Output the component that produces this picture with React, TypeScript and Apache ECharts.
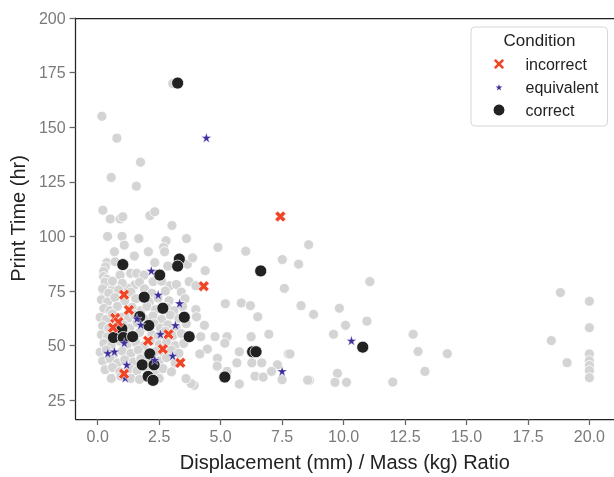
import React, { useEffect, useRef } from "react";
import * as echarts from "echarts";

const xTicks = [0, 2.5, 5, 7.5, 10, 12.5, 15, 17.5, 20];
const yTicks = [25, 50, 75, 100, 125, 150, 175, 200];
const conditionNames = ["incorrect", "equivalent", "correct"];
const legendTitle = "Condition";
const xTitle = "Displacement (mm) / Mass (kg) Ratio";
const yTitle = "Print Time (hr)";

const incorrect = [
  [7.43, 109.1], [4.31, 77.2], [1.07, 73.3], [1.27, 66.3], [0.71, 62.7], [0.84, 60.8],
  [0.62, 58.2], [2.05, 52.2], [2.88, 55.2], [2.65, 48.4], [3.36, 42.1], [1.07, 37.1],
];

const equivalent = [
  [4.42, 145.2], [2.18, 84.3], [2.46, 73.3], [3.33, 69.4], [1.6, 62.4], [1.75, 59.6],
  [3.16, 59.4], [2.55, 55.3], [1.08, 51.3], [0.41, 46.6], [0.68, 47.3], [3.05, 45.4],
  [2.32, 43.5], [1.18, 41.3], [1.12, 35.2], [7.5, 38.3], [10.32, 52.3],
];

const correct = [
  [3.25, 170.2], [3.32, 89.6], [3.25, 86.4], [1.02, 87.1], [2.52, 82.3], [6.63, 84.2],
  [1.89, 72.2], [2.65, 67.1], [3.52, 63.0], [1.71, 63.3], [2.08, 59.2], [0.98, 57.7],
  [0.64, 53.7], [1.04, 53.7], [1.42, 54.1], [3.72, 54.1], [2.12, 46.2], [1.81, 41.2],
  [2.29, 41.2], [2.05, 35.9], [2.25, 34.1], [5.17, 35.6], [6.3, 47.2], [6.44, 47.2],
  [10.78, 49.3],
];

const otherSparse = [
  [0.17, 155], [0.78, 145], [3.05, 170], [1.74, 134], [0.55, 127], [1.57, 123],
  [0.21, 112], [0.51, 108], [0.91, 108], [1.02, 109], [2.12, 109.5], [2.32, 111.3], [3.02, 105],
  [0.4, 100], [0.99, 100], [1.67, 99], [1.08, 96], [2.78, 98], [2.68, 95], [3.61, 99],
  [0.68, 93], [1.49, 91], [2.06, 93], [2.32, 88], [2.72, 93], [2.85, 86.4], [3.65, 87.3],
  [0.37, 88], [0.31, 86], [0.24, 84], [0.24, 81.6], [0.37, 80.4], [0.71, 88.4], [0.91, 82.3],
  [1.34, 83.1], [1.58, 83.1], [1.88, 82.3], [2.25, 79.3], [1.51, 77.8], [1.2, 76.3], [2.92, 77.4],
  [0.57, 75.6], [0.24, 74.8], [3.86, 90.2], [4.37, 84.3], [3.72, 79.3], [3.99, 77.4],
  [4.89, 95], [6.02, 93.2], [8.58, 96.2], [7.51, 89.4], [8.17, 87.3], [7.59, 76.2],
  [5.19, 69.2], [5.84, 69.5], [6.21, 68.3], [6.51, 63.2], [8.27, 68.3], [3.99, 66.5], [4.02, 63.2],
  [4.34, 59.3], [4.77, 54.1], [5.26, 54.1], [4.19, 54.1], [6.24, 54.1], [6.96, 55.2], [5.17, 51.1],
  [5.76, 47.2], [4.46, 48.4], [4.15, 46.2], [4.87, 44.2], [5.66, 42.1], [6.27, 42.1], [6.67, 42.1],
  [7.75, 46.2], [7.82, 46.2], [7.31, 41.2], [7.07, 38.2], [6.4, 36], [6.73, 35.6], [7.5, 34.4],
  [5.76, 32.4], [3.92, 31.8], [3.8, 32.6], [8.61, 34.1], [5.26, 38.2], [4.86, 40.6], [3.59, 34.9],
  [11.07, 79.3], [8.78, 64.3], [9.83, 67.1], [10.08, 59.3], [10.95, 61.2], [9.59, 55.2],
  [12.83, 55.2], [13.03, 47.3], [14.22, 46.3], [13.31, 38.2], [8.54, 34.2], [9.75, 37.3],
  [9.65, 33.2], [10.12, 33.2], [12.0, 33.3],
  [18.82, 74.3], [18.45, 52.3], [19.09, 42.2], [20, 70.3], [20, 58.2], [20, 46.2], [20, 43.1],
  [20, 40.9], [20, 38.6], [20, 35.3],
];

const otherCluster = [
  [0.3, 79], [0.6, 79.5], [1.0, 78.5], [1.7, 79], [2.6, 79.5], [3.2, 78],
  [0.2, 76], [0.45, 74], [0.85, 75.5], [1.35, 74.5], [1.9, 76], [2.2, 74], [2.75, 75], [3.4, 74.5],
  [0.15, 71], [0.4, 70], [0.7, 72], [1.1, 70.5], [1.55, 71.5], [2.1, 70], [2.45, 71.8], [2.9, 70.5], [3.55, 71.5],
  [0.25, 67], [0.5, 66], [0.8, 68], [1.4, 67.5], [1.75, 66], [2.0, 68], [2.35, 66.5], [2.8, 67.5], [3.1, 66], [3.45, 68],
  [0.1, 63], [0.35, 62], [0.6, 64.5], [0.95, 63], [1.25, 62.5], [1.5, 64], [1.95, 62], [2.25, 63.5], [2.6, 62], [2.95, 64], [3.3, 62.5],
  [0.2, 59], [0.45, 58], [0.75, 60], [1.05, 59.5], [1.3, 58], [1.6, 60.5], [1.85, 58.5], [2.3, 60], [2.55, 58], [2.85, 59.5], [3.2, 58], [3.6, 60],
  [0.15, 55], [0.4, 54], [0.85, 56], [1.15, 55.5], [1.45, 54], [1.7, 56], [2.2, 55], [2.45, 54], [2.75, 56.5], [3.05, 54.5], [3.4, 55.5],
  [0.25, 51], [0.55, 50], [0.9, 52], [1.2, 50.5], [1.55, 51.5], [1.9, 50], [2.15, 52], [2.5, 50.5], [2.8, 51.5], [3.15, 50], [3.5, 51],
  [0.1, 47], [0.35, 48], [0.65, 46], [1.0, 47.5], [1.35, 46.5], [1.65, 48], [2.0, 46], [2.4, 47.5], [2.7, 46], [3.0, 48], [3.3, 46.5],
  [0.2, 43], [0.5, 44], [0.8, 42], [1.1, 43.5], [1.45, 42.5], [1.75, 44], [2.05, 42], [2.5, 43], [2.8, 44.5], [3.15, 42],
  [0.3, 39], [0.6, 40], [0.9, 38], [1.3, 39.5], [1.6, 38.5], [1.95, 40], [2.35, 38], [2.65, 39.5], [3.0, 38],
  [0.55, 35], [0.95, 36], [1.35, 35], [1.7, 34.5], [2.1, 36], [2.5, 35],
];

const X_PATH =
  "path://M-1,-0.5L-0.5,-1L0,-0.5L0.5,-1L1,-0.5L0.5,0L1,0.5L0.5,1L0,0.5L-0.5,1L-1,0.5L-0.5,0Z";
const STAR_PATH =
  "path://M0,-1L0.2245,-0.309L0.951,-0.309L0.363,0.118L0.588,0.809L0,0.382L-0.588,0.809L-0.363,0.118L-0.951,-0.309L-0.2245,-0.309Z";

const FONT = "'Liberation Sans', Arial, Helvetica, sans-serif";

export default function App() {
  const ref = useRef<HTMLDivElement>(null);
  useEffect(() => {
    if (!ref.current) return;
    const chart = echarts.init(ref.current, null, { renderer: "svg" });
    const axisLineStyle = { color: "#222", width: 1.25 };
    chart.setOption({
      animation: false,
      grid: { left: 71.5, top: 18, right: -3, bottom: 53.7 },
      xAxis: [
        {
          type: "value",
          min: -0.9,
          max: 21.0,
          position: "bottom",
          axisLine: { show: true, onZero: false, lineStyle: axisLineStyle },
          axisTick: { show: true, length: 6, customValues: xTicks, lineStyle: { color: "#666", width: 1.25 } },
          axisLabel: {
            customValues: xTicks,
            formatter: (v: number) => v.toFixed(1),
            color: "#7a7a7a",
            fontSize: 16,
            margin: 9,
            fontFamily: FONT,
          },
          splitLine: { show: false },
          name: xTitle,
          nameLocation: "middle",
          nameGap: 33,
          nameTextStyle: { fontSize: 20, color: "#222", fontFamily: FONT },
        },
        {
          type: "value",
          min: -0.9,
          max: 21.0,
          position: "top",
          axisLine: { show: true, onZero: false, lineStyle: axisLineStyle },
          axisTick: { show: false },
          axisLabel: { show: false },
          splitLine: { show: false },
        },
      ],
      yAxis: {
        type: "value",
        min: 16.4,
        max: 200,
        axisLine: { show: true, onZero: false, lineStyle: axisLineStyle },
        axisTick: { show: true, length: 6, customValues: yTicks, lineStyle: { color: "#666", width: 1.25 } },
        axisLabel: {
          customValues: yTicks,
          color: "#7a7a7a",
          fontSize: 16,
          margin: 10,
          fontFamily: FONT,
        },
        splitLine: { show: false },
        name: yTitle,
        nameLocation: "middle",
        nameGap: 44,
        nameTextStyle: { fontSize: 20, color: "#222", fontFamily: FONT },
      },
      legend: {
        orient: "vertical",
        left: 491.5,
        top: 56,
        padding: 0,
        itemWidth: 13,
        itemHeight: 13,
        itemGap: 7,
        z: 60,
        selectedMode: false,
        textStyle: { fontSize: 16, color: "#222", fontFamily: FONT, lineHeight: 16, padding: [0, 0, 0, 15] },
        data: [
          { name: conditionNames[0], icon: X_PATH },
          { name: conditionNames[1], icon: STAR_PATH },
          { name: conditionNames[2], icon: "circle" },
        ],
      },
      graphic: [
        {
          type: "rect",
          shape: { x: 471, y: 27, width: 136.5, height: 99, r: 4 },
          style: { fill: "rgba(255,255,255,0.85)", stroke: "#d6d6d6", lineWidth: 1 },
          z: 5,
        },
        {
          type: "text",
          x: 539.5,
          y: 40,
          style: {
            text: legendTitle,
            fontSize: 17,
            fontFamily: FONT,
            fill: "#222",
            textAlign: "center",
            textVerticalAlign: "middle",
          },
          z: 6,
        },
      ],
      series: [
        {
          type: "scatter",
          name: "other",
          data: [...otherSparse, ...otherCluster],
          symbol: "circle",
          symbolSize: 10,
          itemStyle: { color: "#d4d4d4", borderColor: "#fff", borderWidth: 0.8, opacity: 1 },
          z: 1,
        },
        {
          type: "scatter",
          name: conditionNames[2],
          data: correct,
          symbol: "circle",
          symbolSize: 12,
          itemStyle: { color: "#222222", borderColor: "#fff", borderWidth: 0.8, opacity: 1 },
          z: 2,
        },
        {
          type: "scatter",
          name: conditionNames[1],
          data: equivalent,
          symbol: STAR_PATH,
          symbolSize: 10,
          itemStyle: { color: "#3b2f9c", borderColor: "#fff", borderWidth: 0.4, opacity: 1 },
          z: 3,
        },
        {
          type: "scatter",
          name: conditionNames[0],
          data: incorrect,
          symbol: X_PATH,
          symbolSize: 11,
          itemStyle: { color: "#ef4526", borderColor: "#fff", borderWidth: 0.6, opacity: 1 },
          z: 4,
        },
      ],
    });
    return () => chart.dispose();
  }, []);
  return <div ref={ref} style={{ position: "fixed", left: 0, top: 0, width: 614, height: 477 }} />;
}
